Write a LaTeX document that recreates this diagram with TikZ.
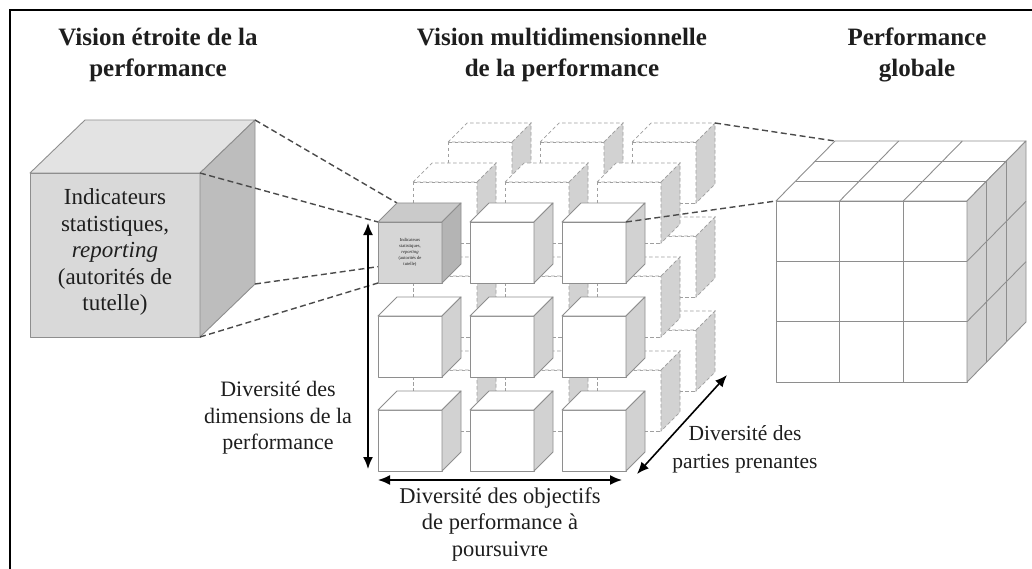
\documentclass[tikz,border=0pt]{standalone}
\usepackage{fontspec}
\setmainfont{Liberation Serif}
\usetikzlibrary{arrows.meta}
\definecolor{edge}{HTML}{8E8E8E}
\definecolor{side}{HTML}{D2D2D2}
\definecolor{bigfront}{HTML}{D9D9D9}
\definecolor{bigtop}{HTML}{E3E3E3}
\definecolor{bigside}{HTML}{BDBDBD}
\definecolor{smallfront}{HTML}{D6D6D6}
\definecolor{smalltop}{HTML}{CACACA}
\definecolor{smallside}{HTML}{B4B4B4}
\definecolor{ink}{HTML}{1E1E1E}
\definecolor{linkgray}{HTML}{4A4A4A}
\tikzset{
  solidcube/.style={draw=edge, line width=0.9pt, line join=round},
  ghostcube/.style={draw=edge!85, line width=0.7pt, dash pattern=on 3.5pt off 2.5pt},
  link/.style={draw=linkgray, line width=1.4pt, dash pattern=on 6pt off 3.5pt},
  dimarrow/.style={draw=black, line width=1.6pt, {Latex[length=12pt,width=10pt]}-{Latex[length=12pt,width=10pt]}},
  ttl/.style={font=\bfseries\fontsize{25}{31}\selectfont, align=center, text=ink},
  lbl/.style={font=\fontsize{22}{26.5}\selectfont, align=center, text=ink},
}
\newcommand\mycube[3]{%
  \begin{scope}[shift={(#1,#2)}]
    \path[#3, fill=white] (0,0) rectangle (64,61);
    \path[#3, fill=white] (0,0) -- (19,-19) -- (83,-19) -- (64,0) -- cycle;
    \path[#3, fill=side] (64,0) -- (83,-19) -- (83,42) -- (64,61) -- cycle;
  \end{scope}}
\begin{document}
\begin{tikzpicture}[x=1pt,y=-1pt]
\useasboundingbox (0,0) rectangle (1032,569);
% frame
\draw[line width=2pt, black] (10,569) -- (10,10) -- (1032,10);

% titles
\node[ttl] (t1) at (158,55) {Vision étroite de la\\performance};
\node[ttl] (t2) at (562,55) {Vision multidimensionnelle\\de la performance};
\node[ttl] (t3) at (917,55) {Performance\\globale};

% big left cube
\path[solidcube, fill=bigfront] (30,173) rectangle (200,337);
\path[solidcube, fill=bigtop] (30,173) -- (85,120) -- (255,120) -- (200,173) -- cycle;
\path[solidcube, fill=bigside] (200,173) -- (255,120) -- (255,284) -- (200,337) -- cycle;
\node[font=\fontsize{23}{26.5}\selectfont, align=center, text=ink] (bigtext) at (115,252) {Indicateurs\\statistiques,\\\textit{reporting}\\(autorités de\\tutelle)};
\coordinate (Bbr) at (255,120);
\coordinate (Bfr) at (200,173);
\coordinate (Bbb) at (255,284);
\coordinate (Bfb) at (200,337);

% ghost layers (back, then middle)
\foreach \ox/\oy in {70/-80, 35/-40} {
  \foreach \c in {0,1,2} {
    \foreach \r in {0,1,2} {
      \mycube{378+92*\c+\ox}{222+94*\r+\oy}{ghostcube}
    }
  }
}

% links from the big cube
\coordinate (Sbl) at (397,203);
\coordinate (Sfl) at (378,222);
\coordinate (Shb) at (397,264);
\coordinate (Sfb) at (378,283);
\draw[link] (Bbr) -- (Sbl);
\draw[link] (Bfr) -- (Sfl);
\draw[link] (Bbb) -- (Shb);
\draw[link] (Bfb) -- (Sfb);

% front layer
\foreach \c in {0,1,2} {
  \foreach \r in {0,1,2} {
    \ifnum\c\r=00\else
      \mycube{378+92*\c}{222+94*\r}{solidcube}
    \fi
  }
}
% small grey cube
\begin{scope}[shift={(378,222)}]
  \path[solidcube, fill=smallfront] (0,0) rectangle (64,61);
  \path[solidcube, fill=smalltop] (0,0) -- (19,-19) -- (83,-19) -- (64,0) -- cycle;
  \path[solidcube, fill=smallside] (64,0) -- (83,-19) -- (83,42) -- (64,61) -- cycle;
  \node[font=\fontsize{4.6}{6}\selectfont, align=center, text=ink] (smalltext) at (32,30) {Indicateurs\\statistiques,\\\textit{reporting}\\(autorités de\\tutelle)};
\end{scope}

% global performance cube
\path[solidcube, fill=white] (776,201) rectangle (967,382);
\path[solidcube, fill=white] (776,201) -- (835,141) -- (1026,141) -- (967,201) -- cycle;
\path[solidcube, fill=side] (967,201) -- (1026,141) -- (1026,322) -- (967,382) -- cycle;
\foreach \i in {1,2} {
  \draw[solidcube] (776+63.67*\i,201) -- (776+63.67*\i,382);
  \draw[solidcube] (776,201+60.33*\i) -- (967,201+60.33*\i);
  \draw[solidcube] (776+19.67*\i,201-20*\i) -- (967+19.67*\i,201-20*\i);
  \draw[solidcube] (776+63.67*\i,201) -- (835+63.67*\i,141);
  \draw[solidcube] (967+19.67*\i,201-20*\i) -- (967+19.67*\i,382-20*\i);
  \draw[solidcube] (967,201+60.33*\i) -- (1026,141+60.33*\i);
}
\coordinate (Gfl) at (776,201);
\coordinate (Gbl) at (835,141);
\coordinate (Mfr) at (626,222);
\coordinate (Mbr) at (715,123);
\draw[link] (Mbr) -- (Gbl);
\draw[link] (Mfr) -- (Gfl);

% dimension arrows
\coordinate (V1) at (368,223);
\coordinate (V2) at (368,469);
\coordinate (H1) at (378,480);
\coordinate (H2) at (622,480);
\coordinate (D1) at (637,474);
\coordinate (D2) at (727,375);
\draw[dimarrow] (V1) -- (V2);
\draw[dimarrow] (H1) -- (H2);
\draw[dimarrow] (D1) -- (D2);

\node[lbl] (l1) at (278,418) {Diversité des\\dimensions de la\\performance};
\node[lbl, font=\fontsize{22.5}{26.5}\selectfont] (l2) at (500,524) {Diversité des objectifs\\de performance à\\poursuivre};
\node[lbl, font=\fontsize{21.5}{28}\selectfont] (l3) at (745,449) {Diversité des\\parties prenantes};
\end{tikzpicture}
\end{document}
